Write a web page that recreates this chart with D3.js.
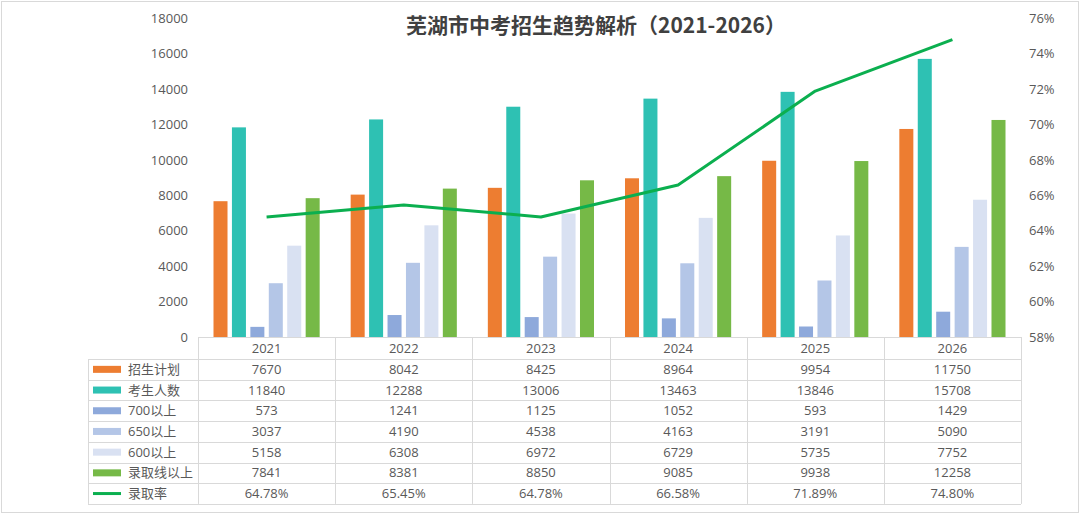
<!DOCTYPE html>
<html><head><meta charset="utf-8">
<script src="https://cdn.jsdelivr.net/npm/d3@7"></script>
<style>
html,body{margin:0;padding:0;background:#fff;}
svg{display:block;font-family:"Open Sans","Noto Sans CJK SC",sans-serif;}
</style></head>
<body><svg id="c" width="1080" height="515"></svg>
<script>
const years = ["2021","2022","2023","2024","2025","2026"];
const plan = [7670,8042,8425,8964,9954,11750];
const examinees = [11840,12288,13006,13463,13846,15708];
const above700 = [573,1241,1125,1052,593,1429];
const above650 = [3037,4190,4538,4163,3191,5090];
const above600 = [5158,6308,6972,6729,5735,7752];
const aboveLine = [7841,8381,8850,9085,9938,12258];
const admitRate = [64.78,65.45,64.78,66.58,71.89,74.80];
const leftTicks = [0,2000,4000,6000,8000,10000,12000,14000,16000,18000];
const rightTicks = [58,60,62,64,66,68,70,72,74,76];
const titleText = "芜湖市中考招生趋势解析（2021-2026）";

const barSeries = [
  {name:"招生计划", values:plan, color:"#ED7D31"},
  {name:"考生人数", values:examinees, color:"#2EC1B3"},
  {name:"700以上", values:above700, color:"#8EA9DB"},
  {name:"650以上", values:above650, color:"#B4C6E7"},
  {name:"600以上", values:above600, color:"#D9E1F2"},
  {name:"录取线以上", values:aboveLine, color:"#76B947"}
];
const lineSeries = {name:"录取率", values:admitRate, color:"#0BAF4F"};

const FONT = '"Open Sans","Noto Sans CJK SC",sans-serif';
const svg = d3.select("#c");
const L = 198, R = 1021, T = 18.3, B = 337;
const txt = "#595959", grid = "#D9D9D9";

svg.append("rect").attr("x",1.5).attr("y",1.5).attr("width",1077).attr("height",511)
  .attr("fill","#fff").attr("stroke",grid).attr("stroke-width",1);

const x0 = d3.scaleBand().domain(years).range([L,R]).paddingInner(0).paddingOuter(0);
const x1 = d3.scaleBand().domain(barSeries.map(s=>s.name)).range([15.5, x0.bandwidth()-15.5]).paddingInner(0.24);
const yL = d3.scaleLinear().domain([0,18000]).range([B,T]);
const yR = d3.scaleLinear().domain([58,76]).range([B,T]);

// axes
const axL = svg.append("g").attr("transform",`translate(${L},0)`)
  .call(d3.axisLeft(yL).tickValues(leftTicks).tickSize(0).tickPadding(10).tickFormat(d=>String(d)));
const axR = svg.append("g").attr("transform",`translate(${R},0)`)
  .call(d3.axisRight(yR).tickValues(rightTicks).tickSize(0).tickPadding(8).tickFormat(d=>d+"%"));
[axL,axR].forEach(a=>{a.select(".domain").remove();
  a.selectAll("text").attr("fill",txt).style("font-size","13px").style("font-family",FONT);});

// bars
const groups = svg.append("g").selectAll("g").data(years).join("g")
  .attr("transform",d=>`translate(${x0(d)},0)`);
groups.selectAll("rect").data((d,i)=>barSeries.map(s=>({s, v:s.values[i]}))).join("rect")
  .attr("x",d=>x1(d.s.name)).attr("width",x1.bandwidth())
  .attr("y",d=>yL(d.v)).attr("height",d=>B-yL(d.v)).attr("fill",d=>d.s.color);

// line
const line = d3.line().x((d,i)=>x0(years[i])+x0.bandwidth()/2).y(d=>yR(d));
svg.append("path").datum(lineSeries.values).attr("d",line).attr("fill","none")
  .attr("stroke",lineSeries.color).attr("stroke-width",3).attr("stroke-linejoin","round");

// title
svg.append("text").attr("x",596).attr("y",33).attr("text-anchor","middle")
  .attr("fill","#404040").style("font-family",'"Noto Sans CJK SC",sans-serif')
  .style("font-size","21px").style("font-weight","bold").text(titleText);

// data table
const legL = 88, headH = 22, rowH = 20.7;
const rows = barSeries.map(s=>({name:s.name,color:s.color,type:"bar",vals:s.values.map(v=>String(v))}))
  .concat([{name:lineSeries.name,color:lineSeries.color,type:"line",vals:lineSeries.values.map(v=>v.toFixed(2)+"%")}]);
const rowY = i => B + headH + rowH*i;
const tb = svg.append("g");
tb.append("line").attr("x1",L).attr("x2",R).attr("y1",B+0.5).attr("y2",B+0.5).attr("stroke",grid);
for(let i=0;i<=rows.length;i++){
  const y = Math.round(rowY(i))+0.5;
  tb.append("line").attr("x1",legL).attr("x2",R).attr("y1",y).attr("y2",y).attr("stroke",grid);
}
tb.append("line").attr("x1",legL+0.5).attr("x2",legL+0.5).attr("y1",rowY(0)).attr("y2",rowY(rows.length)).attr("stroke",grid);
years.forEach(y=>{const xx=Math.round(x0(y))+0.5;
  tb.append("line").attr("x1",xx).attr("x2",xx).attr("y1",B).attr("y2",rowY(rows.length)).attr("stroke",grid);});
tb.append("line").attr("x1",R+0.5).attr("x2",R+0.5).attr("y1",B).attr("y2",rowY(rows.length)).attr("stroke",grid);
years.forEach(y=>tb.append("text").attr("x",x0(y)+x0.bandwidth()/2).attr("y",B+headH/2).attr("dy","0.35em")
  .attr("text-anchor","middle").attr("fill",txt).style("font-size","13px").text(y));
rows.forEach((r,i)=>{
  const cy = rowY(i)+rowH/2;
  if(r.type==="bar") tb.append("rect").attr("x",93).attr("y",cy-3.5).attr("width",28).attr("height",7).attr("fill",r.color);
  else tb.append("line").attr("x1",93).attr("x2",121).attr("y1",cy).attr("y2",cy).attr("stroke",r.color).attr("stroke-width",3);
  tb.append("text").attr("x",128).attr("y",cy).attr("dy","0.35em").attr("fill",txt).style("font-size","13px").text(r.name);
  r.vals.forEach((v,j)=>tb.append("text").attr("x",x0(years[j])+x0.bandwidth()/2).attr("y",cy).attr("dy","0.35em")
    .attr("text-anchor","middle").attr("fill",txt).style("font-size","13px").text(v));
});
</script></body></html>
